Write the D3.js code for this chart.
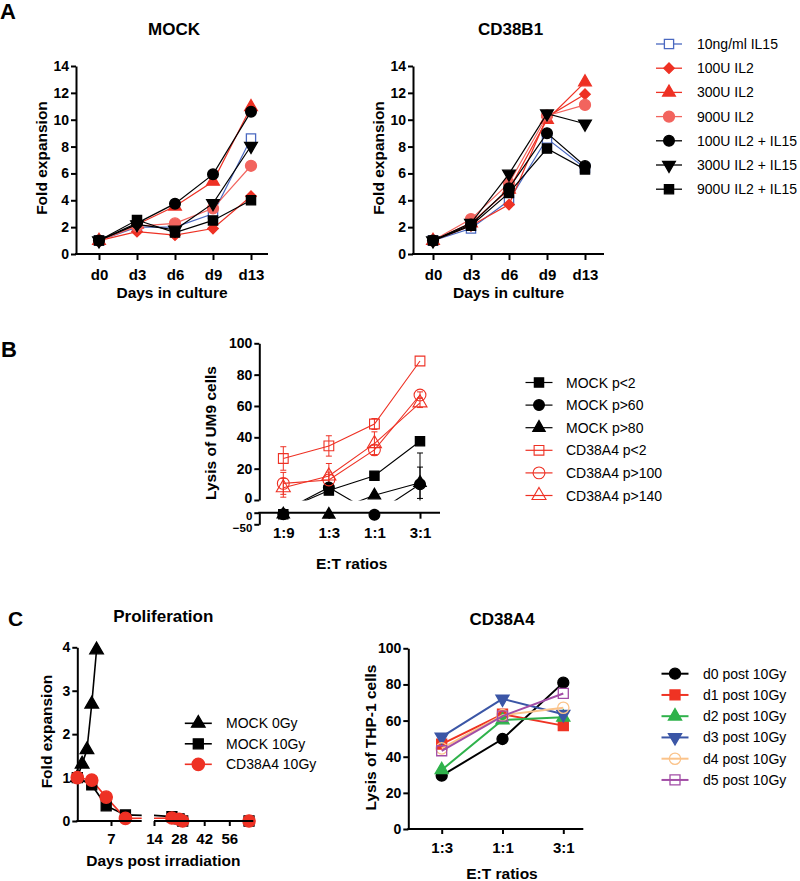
<!DOCTYPE html>
<html><head><meta charset="utf-8">
<script src="https://cdn.jsdelivr.net/npm/d3@7"></script>
<style>body{margin:0;background:#fff} svg{display:block}</style>
</head><body><svg id="c" width="800" height="881"></svg>
<script>
// ---------- DATA ----------
// Panel A
const daysA = ["d0","d3","d6","d9","d13"];
const seriesA = ["10ng/ml IL15","100U IL2","300U IL2","900U IL2","100U IL2 + IL15","300U IL2 + IL15","900U IL2 + IL15"];
const mockIL15        = [1, 2.0, 2.0, 3.0, 8.6];
const mockIL2_100     = [1, 1.66, 1.4, 1.9, 4.3];
const mockIL2_300     = [1, 2.2, 3.55, 5.4, 10.95];
const mockIL2_900     = [1, 2.08, 2.28, 3.4, 6.57];
const mockIL2IL15_100 = [1, 2.3, 3.75, 5.93, 10.6];
const mockIL2IL15_300 = [1, 2.2, 1.8, 3.77, 8.04];
const mockIL2IL15_900 = [1, 2.53, 1.6, 2.5, 4.0];
const cdbIL15         = [1, 1.9, 3.98, 8.6, 6.4];
const cdbIL2_100      = [1, 2.1, 3.68, 10.2, 11.9];
const cdbIL2_300      = [1, 2.3, 4.8, 10.0, 12.8];
const cdbIL2_900      = [1, 2.6, 5.27, 10.3, 11.1];
const cdbIL2IL15_100  = [1, 2.2, 4.9, 9.0, 6.55];
const cdbIL2IL15_300  = [1, 2.3, 5.97, 10.45, 9.7];
const cdbIL2IL15_900  = [1, 2.1, 4.55, 7.85, 6.3];
const ticksA = [0,2,4,6,8,10,12,14];

// Panel B
const ratiosB = ["1:9","1:3","1:1","3:1"];
const seriesB = ["MOCK p<2","MOCK p>60","MOCK p>80","CD38A4 p<2","CD38A4 p>100","CD38A4 p>140"];
const mockP2    = [-6.5, 6, 15.5, 37.5];
const mockP60   = [-7, 8, -9, 10];
const mockP80   = [-7, -8, 3, 11];
const cdP2      = [26.5, 34.5, 48.5, 88.7];
const cdP100    = [10.6, 12.8, 32, 67];
const cdP140    = [7.8, 15.3, 36, 62];
const mockP2Err = [0, 0, 0, 0];
const mockP60Err= [0, 0, 0, 20];
const mockP80Err= [0, 0, 0, 10];
const cdP2Err   = [7.5, 6.5, 3.5, 0];
const cdP100Err = [7, 5, 3, 2];
const cdP140Err = [6, 8, 7.5, 3];
const ticksBUpper = [0,20,40,60,80,100];
const ticksBLower = [-50,0];

// Panel C proliferation
const seriesCP = ["MOCK 0Gy","MOCK 10Gy","CD38A4 10Gy"];
const daysMock0 = [0,1,2,3,4];
const mock0Gy   = [1, 1.31, 1.64, 2.69, 3.94];
const days10    = [0,3,6,10,24,28,30,67];
const mock10Gy  = [1, 0.83, 0.35, 0.14, 0.1, 0.05, 0.0, 0.0];
const cd38a410Gy= [1, 0.94, 0.55, 0.06, 0.07, 0.04, 0.0, 0.0];
const ticksCPy  = [0,1,2,3,4];
const ticksCPx1 = [7];
const ticksCPx2 = [14,28,42,56];

// Panel C CD38A4
const ratiosC = ["1:3","1:1","3:1"];
const seriesC = ["d0 post 10Gy","d1 post 10Gy","d2 post 10Gy","d3 post 10Gy","d4 post 10Gy","d5 post 10Gy"];
const lysD0 = [29.5, 49.8, 81];
const lysD1 = [47, 63.5, 57.2];
const lysD2 = [32.7, 60.3, 61.8];
const lysD3 = [51, 72, 63.5];
const lysD4 = [44.6, 63, 67.1];
const lysD5 = [43.3, 62.5, 75];
const ticksCy = [0,20,40,60,80,100];

// ---------- DRAWING ----------
const FONT = "Arial, 'Liberation Sans', Helvetica, sans-serif";
const RED="#ee3124", SALMON="#f2645e", BLUE="#4a68c0", BLK="#000";
const TICK_FS = 14, LABEL_FS = 15.5, TITLE_FS = 17;
const fmtInt = d3.format("d");
const svg = d3.select("#c").style("font-family", FONT);

function symPath(type, size){
  if(type==="circle") return {d:d3.symbol(d3.symbolCircle,size)(), r:0};
  if(type==="square") return {d:d3.symbol(d3.symbolSquare,size)(), r:0};
  if(type==="diamond") return {d:d3.symbol(d3.symbolSquare,size)(), r:45};
  if(type==="triangle") return {d:d3.symbol(d3.symbolTriangle,size)(), r:0};
  if(type==="down") return {d:d3.symbol(d3.symbolTriangle,size)(), r:180};
}
function marker(g, x, y, type, size, color, open, sw){
  const s = symPath(type,size);
  g.append("path").attr("d",s.d)
    .attr("transform",`translate(${x},${y}) rotate(${s.r})`)
    .attr("fill", open ? (open==="none"?"none":"#fff") : color)
    .attr("stroke", color).attr("stroke-width", sw||1.3);
}
function styleAxis(a, fs){
  a.attr("font-family",null).attr("font-size",null);
  a.selectAll("path.domain").attr("stroke","#000").attr("stroke-width",2);
  a.selectAll(".tick line").attr("stroke","#000").attr("stroke-width",2);
  a.selectAll(".tick text").attr("fill","#000").style("font-family",FONT)
    .style("font-size",(fs||TICK_FS)+"px").style("font-weight","bold");
}
function text(x,y,str,opts){
  opts=opts||{};
  const t = svg.append("text").attr("x",x).attr("y",y).text(str)
    .attr("text-anchor",opts.anchor||"middle")
    .style("font-size",(opts.size||14)+"px")
    .style("font-weight",opts.bold===false?"normal":"bold").attr("fill","#000");
  if(opts.rot) t.attr("transform",`rotate(-90,${x},${y})`);
  if(opts.dy) t.attr("dy",opts.dy);
  return t;
}
function hline(x1,x2,y){ svg.append("line").attr("x1",x1).attr("x2",x2).attr("y1",y).attr("y2",y).attr("stroke","#000").attr("stroke-width",2); }
function legend(items, x0, y0, dy, lineHalf, textX){
  items.forEach((it,i)=>{
    const y = y0 + i*dy;
    const g = svg.append("g");
    g.append("line").attr("x1",x0-lineHalf).attr("x2",x0+lineHalf).attr("y1",y).attr("y2",y)
      .attr("stroke",it.color).attr("stroke-width",it.lw||1.5);
    marker(g, x0, y, it.sym, it.size, it.color, it.open, it.sw);
    svg.append("text").attr("x",textX).attr("y",y).attr("dy","0.36em").text(it.name)
      .style("font-size","14px").attr("fill","#000");
  });
}

// ===== Panel A =====
const styleA = [
  {color:BLUE, sym:"square", size:85, open:"white", sw:1.3},
  {color:RED, sym:"diamond", size:55},
  {color:RED, sym:"triangle", size:70},
  {color:SALMON, sym:"circle", size:95},
  {color:BLK, sym:"circle", size:90},
  {color:BLK, sym:"down", size:70},
  {color:BLK, sym:"square", size:85},
];
function panelA(xr, axisX, axisEnd, title, data){
  const x = d3.scalePoint().domain(daysA).range(xr);
  const y = d3.scaleLinear().domain([0,14]).range([254,66]);
  const g = svg.append("g");
  const ay = g.append("g").attr("transform",`translate(${axisX},0)`)
    .call(d3.axisLeft(y).tickValues(ticksA).tickFormat(fmtInt).tickSize(5).tickSizeOuter(0).tickPadding(2));
  styleAxis(ay);
  const ax = g.append("g").attr("transform",`translate(0,254)`)
    .call(d3.axisBottom(x).tickSize(6).tickPadding(9));
  ax.select("path.domain").remove();
  styleAxis(ax,15);
  hline(axisX-1, axisEnd, 254);
  const line = d3.line().x((d,i)=>x(daysA[i])).y(d=>y(d));
  data.forEach((vals,k)=>{
    const st = styleA[k];
    g.append("path").attr("d",line(vals)).attr("fill","none").attr("stroke",st.color).attr("stroke-width",1.2);
    vals.forEach((v,i)=>marker(g, x(daysA[i]), y(v), st.sym, st.size, st.color, st.open, st.sw));
  });
  text((axisX+axisEnd)/2+2, 35, title, {size:TITLE_FS});
  text((axisX+axisEnd)/2, 297.5, "Days in culture", {size:LABEL_FS});
  text(axisX-29, 158, "Fold expansion", {size:LABEL_FS, rot:true});
}
panelA([99,251], 76, 268, "MOCK",
  [mockIL15, mockIL2_100, mockIL2_300, mockIL2_900, mockIL2IL15_100, mockIL2IL15_300, mockIL2IL15_900]);
panelA([433,585], 413, 604, "CD38B1",
  [cdbIL15, cdbIL2_100, cdbIL2_300, cdbIL2_900, cdbIL2IL15_100, cdbIL2IL15_300, cdbIL2IL15_900]);
legend(seriesA.map((n,i)=>Object.assign({name:n, lw:1.3},styleA[i])), 669, 44, 24.2, 13, 697);
text(0, 19, "A", {size:22, anchor:"start"});

// ===== Panel B =====
(function(){
  const x = d3.scalePoint().domain(ratiosB).range([283.3, 420]);
  const yU = d3.scaleLinear().domain([0,100]).range([500,343.3]);
  const yL = d3.scaleLinear().domain([-50,0]).range([524.3,512.7]);
  const g = svg.append("g");
  const ay = g.append("g").attr("transform","translate(259.3,0)")
    .call(d3.axisLeft(yU).tickValues(ticksBUpper).tickFormat(fmtInt).tickSize(5).tickSizeOuter(0).tickPadding(2));
  styleAxis(ay);
  ay.selectAll(".tick text").filter(d=>d===0).attr("dy","0.2em");
  const ayl = g.append("g").attr("transform","translate(259.3,0)")
    .call(d3.axisLeft(yL).tickValues(ticksBLower).tickFormat(fmtInt).tickSize(5).tickSizeOuter(0).tickPadding(2));
  styleAxis(ayl, 11.5);
  ayl.selectAll(".tick text").attr("dy", d=> d===0 ? "0.55em" : "0.6em");
  const ax = g.append("g").attr("transform","translate(0,512.7)")
    .call(d3.axisBottom(x).tickSize(6).tickPadding(9));
  ax.select("path.domain").remove();
  styleAxis(ax,15);
  hline(258.3, 440, 512.7);

  svg.append("clipPath").attr("id","clipB").append("rect").attr("x",259).attr("y",343).attr("width",185).attr("height",157.5);
  const cg = g.append("g").attr("clip-path","url(#clipB)");
  const sts = [
    {color:BLK, sym:"square", size:85},
    {color:BLK, sym:"circle", size:90},
    {color:BLK, sym:"triangle", size:65},
    {color:RED, sym:"square", size:95, open:"none", sw:1.1},
    {color:RED, sym:"circle", size:110, open:"none", sw:1.1},
    {color:RED, sym:"triangle", size:85, open:"none", sw:1.1},
  ];
  const vals = [mockP2, mockP60, mockP80, cdP2, cdP100, cdP140];
  const errs = [mockP2Err, mockP60Err, mockP80Err, cdP2Err, cdP100Err, cdP140Err];
  const line = d3.line().x((d,i)=>x(ratiosB[i])).y(d=>yU(d));
  vals.forEach((vs,k)=>{
    const st = sts[k];
    vs.forEach((v,i)=>{
      const e = errs[k][i]; if(!e) return;
      const xx = x(ratiosB[i]);
      cg.append("line").attr("x1",xx).attr("x2",xx).attr("y1",yU(v-e)).attr("y2",yU(v+e)).attr("stroke",st.color).attr("stroke-width",1);
      [v-e,v+e].forEach(w=>cg.append("line").attr("x1",xx-3).attr("x2",xx+3).attr("y1",yU(w)).attr("y2",yU(w)).attr("stroke",st.color).attr("stroke-width",1));
    });
    cg.append("path").attr("d",line(vs)).attr("fill","none").attr("stroke",st.color).attr("stroke-width",1.1);
  });
  vals.forEach((vs,k)=>{
    const st = sts[k];
    vs.forEach((v,i)=>{
      const yy = v>=0 ? yU(v) : yL(v);
      marker(g, x(ratiosB[i]), yy, st.sym, st.size, st.color, st.open, st.sw);
    });
  });
  text(351.7, 568.5, "E:T ratios", {size:LABEL_FS});
  text(215.5, 433, "Lysis of UM9 cells", {size:LABEL_FS, rot:true});
  legend(seriesB.map((n,i)=>Object.assign({name:n, lw:1.2},sts[i])), 539, 382.5, 22.6, 13.5, 566);
  text(1, 357, "B", {size:22, anchor:"start"});
})();

// ===== Panel C: Proliferation =====
(function(){
  const y = d3.scaleLinear().domain([0,4]).range([821,647.3]);
  const x1 = d3.scaleLinear().domain([0,7]).range([77.3,111]);
  const x2 = d3.scaleLinear().domain([14,56]).range([154,229.3]);
  const seg1End = 141.7, seg2Start = 154, seg2End = 253.3;
  const g = svg.append("g");
  const ay = g.append("g").attr("transform","translate(77.3,0)")
    .call(d3.axisLeft(y).tickValues(ticksCPy).tickFormat(fmtInt).tickSize(5).tickSizeOuter(0).tickPadding(2));
  styleAxis(ay);
  const a1 = g.append("g").attr("transform","translate(0,821)").call(d3.axisBottom(x1).tickValues(ticksCPx1).tickFormat(fmtInt).tickSize(5).tickPadding(7));
  a1.select("path.domain").remove(); styleAxis(a1,15);
  const a2 = g.append("g").attr("transform","translate(0,821)").call(d3.axisBottom(x2).tickValues(ticksCPx2).tickFormat(fmtInt).tickSize(5).tickPadding(7));
  a2.select("path.domain").remove(); styleAxis(a2,15);
  hline(76.3, seg1End, 821);
  hline(seg2Start, seg2End, 821);
  svg.append("clipPath").attr("id","clipC1").append("rect").attr("x",70).attr("y",600).attr("width",seg1End-70).attr("height",230);
  svg.append("clipPath").attr("id","clipC2").append("rect").attr("x",seg2Start).attr("y",600).attr("width",seg2End-seg2Start+10).attr("height",230);
  const series = [
    {days:daysMock0, vals:mock0Gy, color:BLK, sym:"triangle", size:80},
    {days:days10, vals:mock10Gy, color:BLK, sym:"square", size:100},
    {days:days10, vals:cd38a410Gy, color:RED, sym:"circle", size:120},
  ];
  series.forEach(s=>{
    [[x1,"clipC1"],[x2,"clipC2"]].forEach(([xs,cid])=>{
      const ln = d3.line().x((d,i)=>xs(s.days[i])).y(d=>y(d));
      g.append("path").attr("clip-path",`url(#${cid})`).attr("d",ln(s.vals)).attr("fill","none").attr("stroke",s.color).attr("stroke-width",1.6);
    });
  });
  series.forEach(s=>{
    s.vals.forEach((v,i)=>{
      const d = s.days[i];
      const xx = d <= 13.5 ? x1(d) : x2(d);
      marker(g, xx, y(v), s.sym, s.size, s.color);
    });
  });
  text(163.3, 622, "Proliferation", {size:TITLE_FS});
  text(163.3, 866, "Days post irradiation", {size:LABEL_FS});
  text(51.5, 731.5, "Fold expansion", {size:LABEL_FS, rot:true});
  legend(seriesCP.map((n,i)=>({name:n, color:series[i].color, sym:series[i].sym, size:series[i].size, lw:1.6})), 198.3, 723.3, 20.5, 13.5, 226);
  text(8, 626, "C", {size:21, anchor:"start"});
})();

// ===== Panel C: CD38A4 =====
(function(){
  const x = d3.scalePoint().domain(ratiosC).range([441.7, 563.3]);
  const y = d3.scaleLinear().domain([0,100]).range([829,648.3]);
  const g = svg.append("g");
  const ay = g.append("g").attr("transform","translate(408.3,0)")
    .call(d3.axisLeft(y).tickValues(ticksCy).tickFormat(fmtInt).tickSize(5).tickSizeOuter(0).tickPadding(2));
  styleAxis(ay);
  const ax = g.append("g").attr("transform","translate(0,829)").call(d3.axisBottom(x).tickSize(5).tickPadding(8));
  ax.select("path.domain").remove(); styleAxis(ax,15);
  hline(407.3, 583.3, 829);
  const sts = [
    {color:"#000000", sym:"circle", size:95},
    {color:"#ef3323", sym:"square", size:100},
    {color:"#2fb24b", sym:"triangle", size:75},
    {color:"#3b56a6", sym:"down", size:75},
    {color:"#fbc38a", sym:"circle", size:100, open:"none", sw:1.3},
    {color:"#a24da6", sym:"square", size:100, open:"none", sw:1.3},
  ];
  const vals = [lysD0, lysD1, lysD2, lysD3, lysD4, lysD5];
  const line = d3.line().x((d,i)=>x(ratiosC[i])).y(d=>y(d));
  vals.forEach((vs,k)=>{
    g.append("path").attr("d",line(vs)).attr("fill","none").attr("stroke",sts[k].color).attr("stroke-width",2);
    vs.forEach((v,i)=>marker(g, x(ratiosC[i]), y(v), sts[k].sym, sts[k].size, sts[k].color, sts[k].open, sts[k].sw));
  });
  text(502, 625, "CD38A4", {size:TITLE_FS});
  text(502, 879, "E:T ratios", {size:LABEL_FS});
  text(375.5, 737.5, "Lysis of THP-1 cells", {size:LABEL_FS, rot:true});
  legend(seriesC.map((n,i)=>Object.assign({name:n, lw:2},sts[i])), 675, 673.7, 21.25, 13.5, 703);
})();
</script></body></html>
